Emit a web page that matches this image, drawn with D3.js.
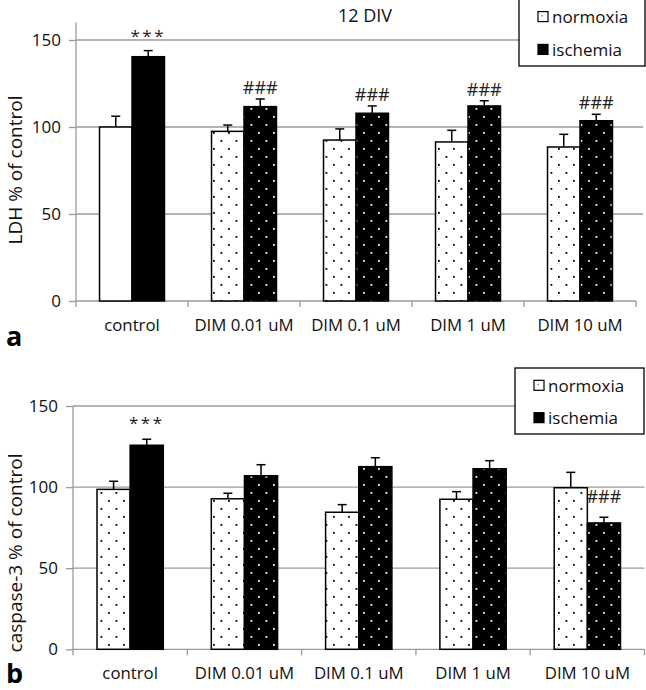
<!DOCTYPE html>
<html><head><meta charset="utf-8">
<script src="https://cdn.jsdelivr.net/npm/d3@7"></script>
<style>body{margin:0;background:#fff}svg{display:block}text{font-family:"Open Sans",Lato,sans-serif}</style>
</head><body>
<script>
const categories = ["control","DIM 0.01 uM","DIM 0.1 uM","DIM 1 uM","DIM 10 uM"];
const seriesNames = ["normoxia","ischemia"];
// Panel a: LDH % of control
const ldhNormoxia = [100, 97.5, 92.5, 91.4, 88.5];
const ldhNormoxiaErr = [6.2, 3.6, 6.4, 6.7, 7.3];
const ldhIschemia = [140.4, 111.7, 107.9, 112.1, 103.6];
const ldhIschemiaErr = [3.5, 4.4, 4.2, 3.0, 3.7];
const ldhNormAnnot = ["", "", "", "", ""];
const ldhIschAnnot = ["***", "###", "###", "###", "###"];
// Panel b: caspase-3 % of control
const caspNormoxia = [98.6, 92.8, 84.5, 92.5, 99.6];
const caspNormoxiaErr = [5.0, 3.4, 4.7, 4.7, 9.5];
const caspIschemia = [125.8, 107.0, 112.6, 111.3, 77.9];
const caspIschemiaErr = [3.7, 6.8, 5.5, 5.0, 3.5];
const caspNormAnnot = ["", "", "", "", ""];
const caspIschAnnot = ["***", "", "", "", "###"];
const yTicks = [0, 50, 100, 150];

const W = 646, H = 690;
const svg = d3.select("body").append("svg").attr("width", W).attr("height", H);
const defs = svg.append("defs");
function dotPattern(id, bg, fg){
  const p = defs.append("pattern").attr("id", id).attr("patternUnits","userSpaceOnUse")
    .attr("width", 15).attr("height", 16);
  p.append("rect").attr("width",15).attr("height",16).attr("fill",bg);
  p.append("rect").attr("x",3).attr("y",4).attr("width",1.8).attr("height",1.8).attr("fill",fg);
  p.append("rect").attr("x",10.5).attr("y",12).attr("width",1.8).attr("height",1.8).attr("fill",fg);
}
dotPattern("dw", "#fff", "#000");
dotPattern("db", "#000", "#fff");

function panel(opt){
  const g = svg.append("g");
  const x = d3.scaleBand().domain(categories).range([opt.x0, opt.x1]).padding(0);
  const y = d3.scaleLinear().domain([0, opt.ymax]).range([opt.y0, opt.yTop]);
  const bw = x.bandwidth()*0.29;
  g.selectAll(".grid").data(yTicks.filter(t=>t>0)).join("line")
    .attr("x1", opt.x0).attr("x2", opt.gridEnd)
    .attr("y1", d=>y(d)).attr("y2", d=>y(d))
    .attr("stroke", "#9a9a9a").attr("stroke-width", 1.3);
  const ya = g.append("g").attr("transform", `translate(${opt.x0},0)`)
    .call(d3.axisLeft(y).tickValues(yTicks).tickSize(7).tickPadding(8));
  ya.select(".domain").attr("stroke","#9a9a9a").attr("stroke-width",1.3).attr("d", `M-0,${opt.y0}V${y(opt.ymax)}`);
  ya.selectAll(".tick line").attr("stroke","#9a9a9a").attr("stroke-width",1.3);
  ya.selectAll(".tick text").attr("font-size", 17).attr("fill","#111").attr("font-family","Lato");
  const xa = g.append("g").attr("transform", `translate(0,${opt.y0})`)
    .call(d3.axisBottom(x).tickSize(0).tickPadding(18));
  xa.select(".domain").attr("stroke","#9a9a9a").attr("stroke-width",1.3).attr("d", `M${opt.x0},0H${opt.x1}`);
  xa.selectAll(".tick text").attr("font-size", 16.8).attr("fill","#111").attr("font-family","Open Sans");
  const bounds = d3.range(categories.length+1).map(i => opt.x0 + i*x.step());
  g.selectAll(".xt").data(bounds).join("line")
    .attr("x1", d=>d).attr("x2", d=>d).attr("y1", opt.y0).attr("y2", opt.y0+6)
    .attr("stroke","#9a9a9a").attr("stroke-width",1.3);

  const series = [
    {vals: opt.norm, err: opt.normErr, ann: opt.normAnn, off: -bw, fill: (i)=> opt.normFill(i)},
    {vals: opt.isch, err: opt.ischErr, ann: opt.ischAnn, off: 0, fill: (i)=> opt.ischFill(i)}
  ];
  series.forEach(s => {
    const cx = (i) => x(categories[i]) + x.bandwidth()/2 + s.off;
    const idx = d3.range(categories.length);
    g.selectAll(null).data(idx).join("line")
      .attr("x1", i=>cx(i)+bw/2).attr("x2", i=>cx(i)+bw/2)
      .attr("y1", i=>y(s.vals[i])).attr("y2", i=>y(s.vals[i]+s.err[i]))
      .attr("stroke","#000").attr("stroke-width",1.5);
    g.selectAll(null).data(idx).join("line")
      .attr("x1", i=>cx(i)+bw/2-4.5).attr("x2", i=>cx(i)+bw/2+4.5)
      .attr("y1", i=>y(s.vals[i]+s.err[i])).attr("y2", i=>y(s.vals[i]+s.err[i]))
      .attr("stroke","#000").attr("stroke-width",1.5);
    g.selectAll(null).data(idx).join("rect")
      .attr("x", i=>cx(i)).attr("width", bw)
      .attr("y", i=>y(s.vals[i])).attr("height", i=>opt.y0 - y(s.vals[i]))
      .attr("fill", i=>s.fill(i)).attr("stroke","#000").attr("stroke-width",1.5);
    g.selectAll(null).data(idx.filter(i=>s.ann[i])).join("text")
      .attr("x", i=>cx(i)+bw/2)
      .attr("y", i=> y(s.vals[i]+s.err[i]) - (s.ann[i]==="***" ? opt.starOff : opt.hashOff))
      .attr("text-anchor","middle").attr("font-size", i => s.ann[i]==="***" ? 17 : 18).attr("fill","#222")
      .attr("font-family", "Open Sans").attr("letter-spacing", i => s.ann[i]==="***" ? 2.5 : 0)
      .text(i=>s.ann[i]);
  });
  g.append("text").attr("transform", `translate(${opt.ylabX},${opt.ylabY}) rotate(-90)`)
    .attr("text-anchor","middle").attr("font-size", opt.ylabSize).attr("fill","#111").text(opt.ylab);
  const lg = g.append("g");
  lg.append("rect").attr("x", opt.lx).attr("y", opt.ly).attr("width", opt.lw).attr("height", opt.lh)
    .attr("fill","#fff").attr("stroke","#000").attr("stroke-width",1.3);
  seriesNames.forEach((n, k) => {
    const yy = opt.ly + opt.lh*(k===0?0.27:0.76);
    lg.append("rect").attr("x", opt.lx+19).attr("y", yy-5.5).attr("width",10).attr("height",10)
      .attr("fill", k===0 ? "#fff" : "#000").attr("stroke","#000").attr("stroke-width",1.2);
    if(k===0) lg.append("rect").attr("x", opt.lx+22.5).attr("y", yy-2).attr("width",1.3).attr("height",1.3).attr("fill","#666");
    lg.append("text").attr("x", opt.lx+33).attr("y", yy+6).attr("font-size",17).attr("fill","#111").text(n);
  });
  g.append("text").attr("x", 6).attr("y", opt.letterY).attr("font-family","'Liberation Sans',Arial,sans-serif")
    .attr("font-weight","bold").attr("font-size", 27).attr("fill","#000").text(opt.letter);
  return g;
}

panel({x0:76, x1:636, gridEnd:643, y0:301, yTop:301-160*1.74, ymax:160,
  norm: ldhNormoxia, normErr: ldhNormoxiaErr, isch: ldhIschemia, ischErr: ldhIschemiaErr,
  normAnn: ldhNormAnnot, ischAnn: ldhIschAnnot,
  normFill: i => i===0 ? "#fff" : "url(#dw)", ischFill: i => i===0 ? "#000" : "url(#db)",
  starOff: 9, hashOff: 5,
  ylab: "LDH % of control", ylabX: 22, ylabY: 170, ylabSize: 19,
  lx: 519, ly: -1, lw: 126, lh: 67, letter: "a", letterY: 346});

panel({x0:73, x1:644.5, gridEnd:644.5, y0:649.3, yTop:406, ymax:150,
  norm: caspNormoxia, normErr: caspNormoxiaErr, isch: caspIschemia, ischErr: caspIschemiaErr,
  normAnn: caspNormAnnot, ischAnn: caspIschAnnot,
  normFill: () => "url(#dw)", ischFill: i => i===0 ? "#000" : "url(#db)",
  starOff: 10, hashOff: 14,
  ylab: "caspase-3 % of control", ylabX: 22, ylabY: 553, ylabSize: 19,
  lx: 515, ly: 368, lw: 129, lh: 66, letter: "b", letterY: 683});

svg.append("text").attr("x", 365).attr("y", 22).attr("text-anchor","middle")
  .attr("font-size", 18).attr("fill","#111").text("12 DIV");
</script>
</body></html>
